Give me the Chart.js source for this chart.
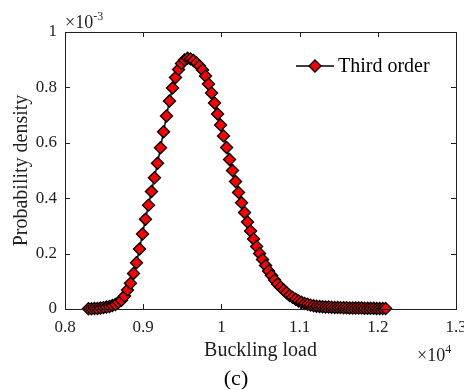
<!DOCTYPE html>
<html>
<head>
<meta charset="utf-8">
<script src="https://cdn.jsdelivr.net/npm/chart.js@4/dist/chart.umd.min.js"></script>
<style>
  html, body { margin: 0; padding: 0; background: #fff; overflow: hidden; }
  #wrap { width: 464px; height: 390px; }
</style>
</head>
<body>
<div id="wrap"><canvas id="pdfChart" width="464" height="390"></canvas></div>
<script>
// Data (buckling load in 1e4, density in 1e-3)
const bucklingLoad = [
  0.8300, 0.8338, 0.8377, 0.8415, 0.8454, 0.8492, 0.8530, 0.8569, 0.8607, 0.8645,
  0.8684, 0.8722, 0.8761, 0.8799, 0.8837, 0.8876, 0.8914, 0.8953, 0.8991, 0.9029,
  0.9068, 0.9106, 0.9144, 0.9183, 0.9221, 0.9260, 0.9298, 0.9336, 0.9375, 0.9413,
  0.9452, 0.9490, 0.9528, 0.9567, 0.9605, 0.9643, 0.9682, 0.9720, 0.9759, 0.9797,
  0.9835, 0.9874, 0.9912, 0.9951, 0.9989, 1.0027, 1.0066, 1.0104, 1.0142, 1.0181,
  1.0219, 1.0258, 1.0296, 1.0334, 1.0373, 1.0411, 1.0450, 1.0488, 1.0526, 1.0565,
  1.0603, 1.0641, 1.0680, 1.0718, 1.0757, 1.0795, 1.0833, 1.0872, 1.0910, 1.0949,
  1.0987, 1.1025, 1.1064, 1.1102, 1.1140, 1.1179, 1.1217, 1.1256, 1.1294, 1.1332,
  1.1371, 1.1409, 1.1448, 1.1486, 1.1524, 1.1563, 1.1601, 1.1639, 1.1678, 1.1716,
  1.1755, 1.1793, 1.1831, 1.1870, 1.1908, 1.1947, 1.1985, 1.2023, 1.2062, 1.2100
];
const thirdOrder = [
  0.001, 0.001, 0.002, 0.002, 0.004, 0.005, 0.007, 0.009, 0.013, 0.016,
  0.024, 0.032, 0.047, 0.069, 0.093, 0.128, 0.167, 0.217, 0.271, 0.324,
  0.375, 0.424, 0.474, 0.526, 0.582, 0.640, 0.697, 0.751, 0.798, 0.836,
  0.865, 0.886, 0.899, 0.905, 0.903, 0.897, 0.888, 0.877, 0.863, 0.841,
  0.812, 0.780, 0.744, 0.704, 0.664, 0.625, 0.583, 0.540, 0.500, 0.460,
  0.421, 0.384, 0.348, 0.314, 0.282, 0.253, 0.226, 0.200, 0.179, 0.157,
  0.137, 0.121, 0.105, 0.090, 0.079, 0.069, 0.059, 0.049, 0.042, 0.035,
  0.029, 0.024, 0.020, 0.017, 0.014, 0.012, 0.010, 0.009, 0.008, 0.0076,
  0.007, 0.0062, 0.0058, 0.0054, 0.005, 0.0047, 0.0043, 0.004, 0.0038, 0.0036,
  0.0034, 0.0032, 0.003, 0.0028, 0.0026, 0.0024, 0.0022, 0.002, 0.0019, 0.0017
];
const xTicks = [0.8, 0.9, 1.0, 1.1, 1.2, 1.3];
const xTickLabels = ['0.8', '0.9', '1', '1.1', '1.2', '1.3'];
const yTicks = [0, 0.2, 0.4, 0.6, 0.8, 1.0];
const yTickLabels = ['0', '0.2', '0.4', '0.6', '0.8', '1'];
const seriesName = 'Third order';

// Styles
const FONT = "'Liberation Serif', 'Times New Roman', serif";
const INK = '#1f1f1f';
const TICK_LEN = 5;

// Box, inward ticks, exponents, legend, panel label
const decorations = {
  id: 'decorations',
  afterDraw(chart) {
    const { ctx, chartArea: a, scales: { x, y } } = chart;
    ctx.save();
    ctx.strokeStyle = INK;
    ctx.lineWidth = 1;
    ctx.strokeRect(a.left + 0.5, a.top + 0.5, a.right - a.left, a.bottom - a.top);
    ctx.beginPath();
    xTicks.forEach(v => {
      const px = Math.round(x.getPixelForValue(v)) + 0.5;
      ctx.moveTo(px, a.bottom); ctx.lineTo(px, a.bottom - TICK_LEN);
      ctx.moveTo(px, a.top); ctx.lineTo(px, a.top + TICK_LEN);
    });
    yTicks.forEach(v => {
      const py = Math.round(y.getPixelForValue(v)) + 0.5;
      ctx.moveTo(a.left, py); ctx.lineTo(a.left + TICK_LEN, py);
      ctx.moveTo(a.right, py); ctx.lineTo(a.right - TICK_LEN, py);
    });
    ctx.stroke();

    // exponent labels
    ctx.fillStyle = INK;
    ctx.textBaseline = 'alphabetic';
    ctx.textAlign = 'left';
    ctx.font = '18px ' + FONT;
    ctx.fillText('\u00d710', a.left, a.top - 4);
    let w = ctx.measureText('\u00d710').width;
    ctx.font = '12px ' + FONT;
    ctx.fillText('-3', a.left + w, a.top - 12);
    ctx.font = '18px ' + FONT;
    ctx.fillText('\u00d710', 417, 361);
    w = ctx.measureText('\u00d710').width;
    ctx.font = '12px ' + FONT;
    ctx.fillText('4', 417 + w, 353);

    // legend
    const ly = 66;
    ctx.beginPath();
    ctx.lineWidth = 1.5;
    ctx.strokeStyle = '#000';
    ctx.moveTo(296, ly); ctx.lineTo(334, ly);
    ctx.stroke();
    ctx.beginPath();
    ctx.moveTo(315 - 6, ly); ctx.lineTo(315, ly - 6);
    ctx.lineTo(315 + 6, ly); ctx.lineTo(315, ly + 6);
    ctx.closePath();
    ctx.fillStyle = '#ff0000';
    ctx.fill();
    ctx.lineWidth = 1.4;
    ctx.stroke();
    ctx.fillStyle = '#000';
    ctx.font = '20px ' + FONT;
    ctx.textBaseline = 'middle';
    ctx.fillText(seriesName, 338, ly + 1);

    // panel label
    ctx.textAlign = 'center';
    ctx.font = '22px ' + FONT;
    ctx.fillText('(c)', 236, 379);
    ctx.restore();
  }
};

// Chart Setup
const ctx = document.getElementById('pdfChart').getContext('2d');
const pdfChart = new Chart(ctx, {
  type: 'line',
  data: {
    datasets: [{
      label: seriesName,
      data: bucklingLoad.map((v, i) => ({ x: v, y: thirdOrder[i] })),
      borderColor: '#000',
      borderWidth: 1.5,
      pointStyle: 'rectRot',
      pointRadius: 6,
      pointBackgroundColor: '#ff0000',
      pointBorderColor: '#000',
      pointBorderWidth: 1.4,
      tension: 0,
      clip: false,
    }]
  },
  options: {
    responsive: false,
    animation: false,
    events: [],
    layout: { padding: { left: 0, right: 8, top: 32, bottom: 27 } },
    scales: {
      x: {
        type: 'linear',
        min: 0.8,
        max: 1.3,
        afterBuildTicks: s => { s.ticks = xTicks.map(v => ({ value: v })); },
        afterFit: s => { s.height = 54; s.paddingLeft = 0; s.paddingRight = 0; },
        ticks: {
          color: INK,
          font: { family: FONT, size: 17 },
          padding: 8,
          maxRotation: 0,
          autoSkip: false,
          callback: (v, i) => xTickLabels[i],
        },
        grid: { display: false, drawTicks: false },
        border: { display: false },
        title: {
          display: true,
          text: 'Buckling load',
          color: INK,
          font: { family: FONT, size: 20 },
          padding: { top: 0, bottom: 0 },
        },
      },
      y: {
        min: 0,
        max: 1,
        afterBuildTicks: s => { s.ticks = yTicks.map(v => ({ value: v })); },
        afterFit: s => { s.width = 65; s.paddingTop = 0; s.paddingBottom = 0; },
        ticks: {
          color: INK,
          font: { family: FONT, size: 17 },
          padding: 8,
          autoSkip: false,
          callback: (v, i) => yTickLabels[i],
        },
        grid: { display: false, drawTicks: false },
        border: { display: false },
        title: {
          display: true,
          text: 'Probability density',
          color: INK,
          font: { family: FONT, size: 20 },
          padding: { top: 10, bottom: 0 },
        },
      },
    },
    plugins: {
      legend: { display: false },
      tooltip: { enabled: false },
    },
  },
  plugins: [decorations],
});
</script>
</body>
</html>
